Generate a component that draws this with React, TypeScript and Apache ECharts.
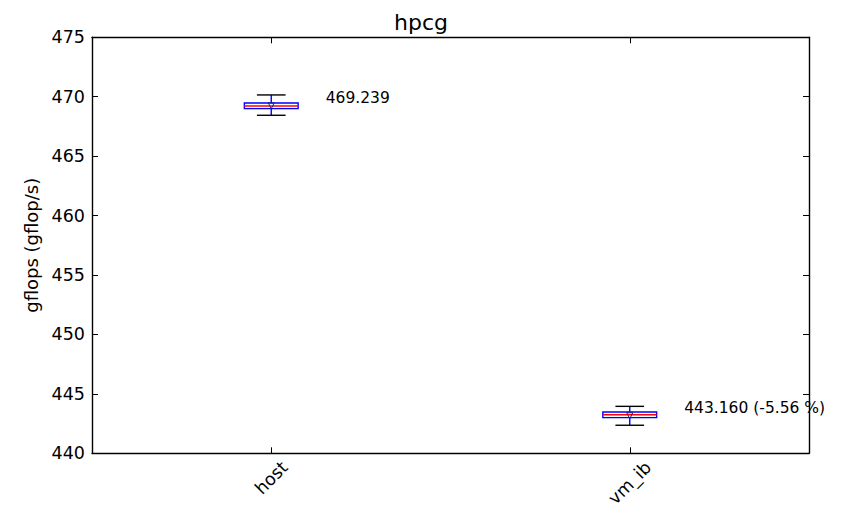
import React, { useEffect, useRef } from 'react';
import * as echarts from 'echarts';

const categories = ['host', 'vm_ib'];
const whiskerLow = [468.44, 442.36];
const q1 = [469.0, 443.0];
const medians = [469.22, 443.24];
const q3 = [469.47, 443.47];
const whiskerHigh = [470.15, 443.95];
const means = [469.239, 443.16];
const annotations = ['469.239', '443.160 (-5.56 %)'];

const Y_MIN = 440;
const Y_MAX = 475;
const Y_STEP = 5;

const FONT = 'DejaVu Sans';
const TICK_FS = 17.5;
const ANN_FS = 15.5;

function measure(text: string, size: number): number {
  const ctx = document.createElement('canvas').getContext('2d');
  if (!ctx) return text.length * size * 0.6;
  ctx.font = `${size}px "${FONT}"`;
  return ctx.measureText(text).width;
}

export default function App() {
  const ref = useRef<HTMLDivElement>(null);
  useEffect(() => {
    document.body.style.margin = '0';
    if (!ref.current) return;
    const chart = echarts.init(ref.current, null, { renderer: 'svg' });
    const data = categories.map((c, i) => [
      i,
      whiskerLow[i],
      q1[i],
      medians[i],
      q3[i],
      whiskerHigh[i],
      means[i],
    ]);

    const renderItem = (params: any, api: any) => {
      const i = api.value(0);
      const [cx, pLow] = api.coord([i, api.value(1)]);
      const pQ1 = api.coord([i, api.value(2)])[1];
      const pMed = api.coord([i, api.value(3)])[1];
      const pQ3 = api.coord([i, api.value(4)])[1];
      const pHigh = api.coord([i, api.value(5)])[1];
      const pMean = api.coord([i, api.value(6)])[1];
      const pAxis = api.coord([i, Y_MIN])[1];
      const band = api.size([1, 0])[0];
      const boxW = band * 0.15;
      const capW = band * 0.08;
      const lw = 1.4;
      const label = categories[i];
      const L = measure(label, TICK_FS);
      const h = TICK_FS;
      const lblY = pAxis + 5 + (L + h) / (2 * Math.SQRT2);
      return {
        type: 'group',
        children: [
          {
            type: 'line',
            shape: { x1: cx, y1: pLow, x2: cx, y2: pQ1 },
            style: { stroke: '#0000ff', lineWidth: lw },
          },
          {
            type: 'line',
            shape: { x1: cx, y1: pQ3, x2: cx, y2: pHigh },
            style: { stroke: '#0000ff', lineWidth: lw },
          },
          {
            type: 'line',
            shape: { x1: cx - capW / 2, y1: pLow, x2: cx + capW / 2, y2: pLow },
            style: { stroke: '#000000', lineWidth: lw },
          },
          {
            type: 'line',
            shape: { x1: cx - capW / 2, y1: pHigh, x2: cx + capW / 2, y2: pHigh },
            style: { stroke: '#000000', lineWidth: lw },
          },
          {
            type: 'rect',
            shape: { x: cx - boxW / 2, y: pQ3, width: boxW, height: pQ1 - pQ3 },
            style: { stroke: '#0000ff', fill: 'none', lineWidth: lw },
          },
          {
            type: 'line',
            shape: { x1: cx - boxW / 2, y1: pMed, x2: cx + boxW / 2, y2: pMed },
            style: { stroke: '#ff0000', lineWidth: lw },
          },
          {
            type: 'polygon',
            shape: {
              points: [
                [cx - 3, pMean - 3],
                [cx + 3, pMean - 3],
                [cx, pMean + 3],
              ],
            },
            style: { stroke: '#1a237e', fill: 'none', lineWidth: 1 },
          },
          {
            type: 'text',
            x: cx + band * 0.152,
            y: pMean - 7.7,
            style: {
              text: annotations[i],
              fontSize: ANN_FS,
              fontFamily: FONT,
              fill: '#000000',
              align: 'left',
              verticalAlign: 'middle',
            },
          },
          {
            type: 'text',
            x: cx,
            y: lblY,
            rotation: Math.PI / 4,
            style: {
              text: label,
              fontSize: TICK_FS,
              fontFamily: FONT,
              fill: '#000000',
              align: 'center',
              verticalAlign: 'middle',
            },
          },
        ],
      };
    };

    const axisLineStyle = { color: '#000000', width: 1.4 };
    chart.setOption({
      animation: false,
      title: {
        text: 'hpcg',
        left: 'center',
        top: 6,
        textStyle: { fontFamily: FONT, fontSize: 22, fontWeight: 'normal', color: '#000000' },
      },
      grid: { left: 92, right: 33, top: 37.3, bottom: 55.7, containLabel: false },
      xAxis: [
        {
          type: 'category',
          data: categories,
          position: 'bottom',
          boundaryGap: true,
          axisLine: { show: true, lineStyle: axisLineStyle },
          axisTick: { show: true, inside: true, alignWithLabel: true, length: 6, lineStyle: { color: '#000', width: 1 } },
          axisLabel: { show: false },
          splitLine: { show: false },
        },
        {
          type: 'category',
          data: categories,
          position: 'top',
          boundaryGap: true,
          axisLine: { show: true, lineStyle: axisLineStyle },
          axisTick: { show: true, inside: true, alignWithLabel: true, length: 6, lineStyle: { color: '#000', width: 1 } },
          axisLabel: { show: false },
          splitLine: { show: false },
        },
      ],
      yAxis: [
        {
          type: 'value',
          min: Y_MIN,
          max: Y_MAX,
          interval: Y_STEP,
          position: 'left',
          name: 'gflops (gflop/s)',
          nameLocation: 'middle',
          nameGap: 50,
          nameTextStyle: { fontFamily: FONT, fontSize: 18, color: '#000000' },
          axisLine: { show: true, lineStyle: axisLineStyle },
          axisTick: { show: true, inside: true, length: 6, lineStyle: { color: '#000', width: 1 } },
          axisLabel: { fontFamily: FONT, fontSize: TICK_FS, color: '#000000', margin: 7 },
          splitLine: { show: false },
        },
        {
          type: 'value',
          min: Y_MIN,
          max: Y_MAX,
          interval: Y_STEP,
          position: 'right',
          axisLine: { show: true, lineStyle: axisLineStyle },
          axisTick: { show: true, inside: true, length: 6, lineStyle: { color: '#000', width: 1 } },
          axisLabel: { show: false },
          splitLine: { show: false },
        },
      ],
      series: [
        {
          type: 'custom',
          xAxisIndex: 0,
          yAxisIndex: 0,
          clip: false,
          renderItem,
          data,
          z: 10,
        },
      ],
    });
    return () => chart.dispose();
  }, []);
  return <div ref={ref} style={{ width: 842, height: 509 }} />;
}
